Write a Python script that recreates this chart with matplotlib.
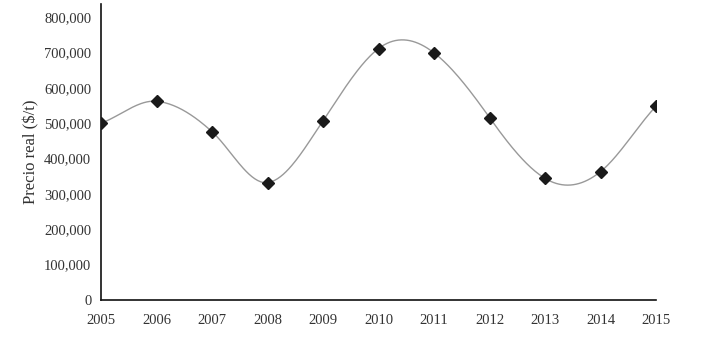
import numpy as np
import matplotlib.pyplot as plt

years = [2005, 2006, 2007, 2008, 2009, 2010, 2011, 2012, 2013, 2014, 2015]
precio = [500000, 562000, 476000, 332000, 507000, 711000, 699000, 516000, 344000, 363000, 548000]
yticks = [0, 100000, 200000, 300000, 400000, 500000, 600000, 700000, 800000]


def smooth(x, y, n=40, k=0.62):
    # Hermite curve with Catmull-Rom style tangents (like a spreadsheet "smoothed line")
    x = np.asarray(x, float)
    y = np.asarray(y, float)
    m = np.zeros_like(y)
    m[1:-1] = (y[2:] - y[:-2]) / 2 * k * 2
    m[0] = (y[1] - y[0]) * 0.9
    m[-1] = (y[-1] - y[-2]) * 0.9
    xs, ys = [], []
    for i in range(len(x) - 1):
        t = np.linspace(0, 1, n)
        h00 = 2 * t**3 - 3 * t**2 + 1
        h10 = t**3 - 2 * t**2 + t
        h01 = -2 * t**3 + 3 * t**2
        h11 = t**3 - t**2
        xs.append(x[i] + t * (x[i + 1] - x[i]))
        ys.append(h00 * y[i] + h10 * m[i] + h01 * y[i + 1] + h11 * m[i + 1])
    return np.concatenate(xs), np.concatenate(ys)


plt.rcParams["font.family"] = ["Liberation Serif", "DejaVu Serif"]

fig = plt.figure(figsize=(7.05, 3.41), dpi=100)
ax = fig.add_axes([0.1433, 0.1202, 0.7872, 0.868])

sx, sy = smooth(years, precio)
ax.plot(sx, sy, color="#999999", lw=1.0, zorder=2)
ax.plot(years, precio, ls="none", marker="D", ms=6.5, color="#1a1a1a", zorder=3)

ax.set_xlim(2005, 2015)
ax.set_ylim(0, 837000)
ax.set_xticks(years)
ax.set_xticklabels([str(y) for y in years])
ax.set_yticks(yticks)
ax.set_yticklabels([f"{v:,}" for v in yticks])
ax.tick_params(length=0, labelsize=10.5, colors="#333333", pad=7)
ax.tick_params(axis="x", pad=10)

for s in ["top", "right"]:
    ax.spines[s].set_visible(False)
for s in ["left", "bottom"]:
    ax.spines[s].set_color("#111111")
    ax.spines[s].set_linewidth(1.2)

ax.set_ylabel("Precio real ($/t)", fontsize=12, color="#333333", labelpad=3)

fig.savefig("out.png", dpi=100)
